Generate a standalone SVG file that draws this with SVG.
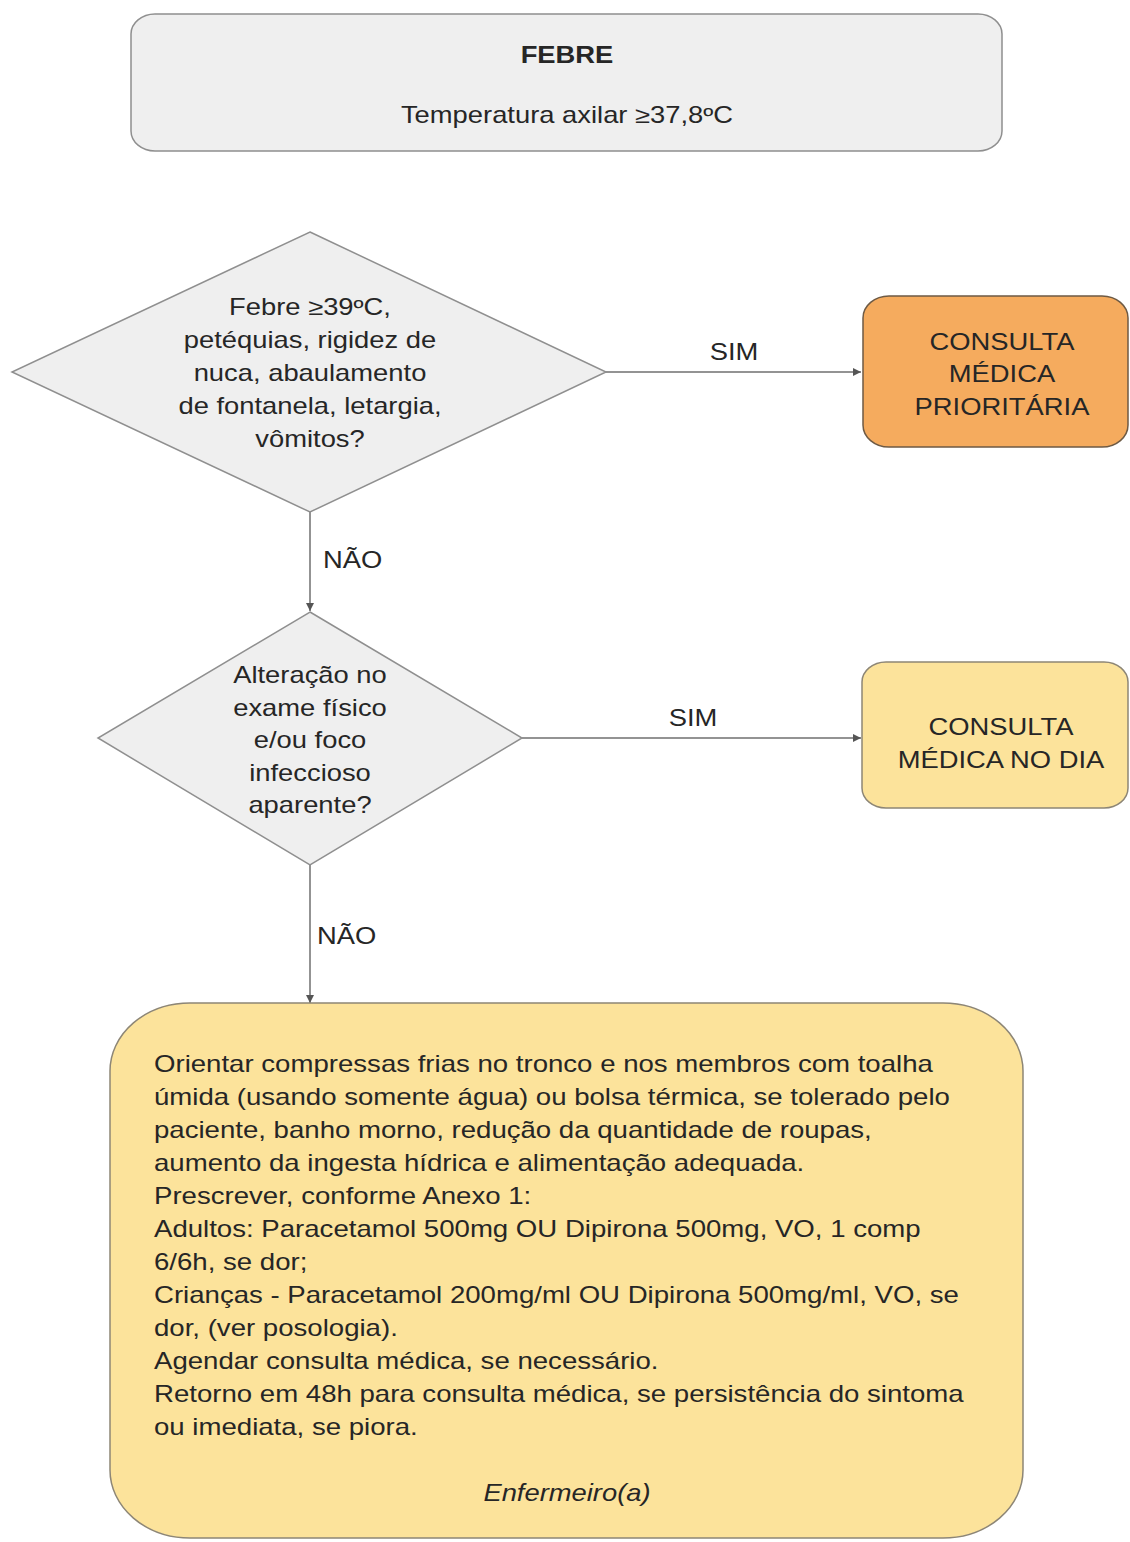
<svg xmlns="http://www.w3.org/2000/svg" width="1130" height="1542" viewBox="0 0 1130 1542">
  <defs>
    <style>
      .txt { font-family: "Liberation Sans", Arial, sans-serif; font-size: 23px; fill: #262626; }
      .mid { text-anchor: middle; }
      .bold { font-weight: bold; }
      .ital { font-style: italic; }
      .gray { fill: #efefef; stroke: #8f8f8f; stroke-width: 1.5; }
      .orange { fill: #f5ab5e; stroke: #6e5a44; stroke-width: 1.5; }
      .yellow { fill: #fce39b; stroke: #8d8676; stroke-width: 1.5; }
      .conn { stroke: #6f6f6f; stroke-width: 1.5; fill: none; }
      .lbl { font-family: "Liberation Sans", Arial, sans-serif; font-size: 23px; fill: #262626; }
    </style>
    <marker id="arrow" markerUnits="userSpaceOnUse" markerWidth="8" markerHeight="8" refX="8" refY="4" orient="auto">
      <path d="M0,0 L8,4 L0,8 z" fill="#555555"/>
    </marker>
  </defs>

  <rect width="1130" height="1542" fill="#ffffff"/>

  <!-- Connectors -->
  <g id="connectors">
    <line class="conn" x1="606" y1="372" x2="861" y2="372" marker-end="url(#arrow)"/>
    <line class="conn" x1="310" y1="512" x2="310" y2="611" marker-end="url(#arrow)"/>
    <line class="conn" x1="522" y1="738" x2="861" y2="738" marker-end="url(#arrow)"/>
    <line class="conn" x1="310" y1="865" x2="310" y2="1003" marker-end="url(#arrow)"/>
    <g transform="translate(734,0) scale(1.19,1)">
      <text class="lbl mid" x="0" y="360">SIM</text>
    </g>
    <g transform="translate(693,0) scale(1.19,1)">
      <text class="lbl mid" x="0" y="726">SIM</text>
    </g>
    <g transform="translate(323,0) scale(1.19,1)">
      <text class="lbl" x="0" y="568">NÃO</text>
    </g>
    <g transform="translate(317,0) scale(1.19,1)">
      <text class="lbl" x="0" y="944">NÃO</text>
    </g>
  </g>

  <!-- Start: fever definition -->
  <g id="febre">
    <rect class="gray" x="131" y="14" width="871" height="137" rx="24" ry="20"/>
    <g transform="translate(567,0) scale(1.19,1)">
      <text class="txt mid bold" x="0" y="63">FEBRE</text>
      <text class="txt mid" x="0" y="123">Temperatura axilar ≥37,8ºC</text>
    </g>
  </g>

  <!-- Decision: warning signs -->
  <g id="sinais-alarme">
    <polygon class="gray" points="310,232 606,372 310,512 12,372"/>
    <g transform="translate(310,0) scale(1.19,1)">
      <text class="txt mid" x="0" y="315">Febre ≥39ºC,</text>
      <text class="txt mid" x="0" y="348">petéquias, rigidez de</text>
      <text class="txt mid" x="0" y="381">nuca, abaulamento</text>
      <text class="txt mid" x="0" y="414">de fontanela, letargia,</text>
      <text class="txt mid" x="0" y="447">vômitos?</text>
    </g>
  </g>

  <!-- Outcome: priority consultation -->
  <g id="consulta-prioritaria">
    <rect class="orange" x="863" y="296" width="265" height="151" rx="26" ry="22"/>
    <g transform="translate(1002,0) scale(1.19,1)">
      <text class="txt mid" x="0" y="350" fill="#2b2118">CONSULTA</text>
      <text class="txt mid" x="0" y="382" fill="#2b2118">MÉDICA</text>
      <text class="txt mid" x="0" y="415" fill="#2b2118">PRIORITÁRIA</text>
    </g>
  </g>

  <!-- Decision: physical exam findings -->
  <g id="exame-fisico">
    <polygon class="gray" points="310,612 522,738 310,865 98,738"/>
    <g transform="translate(310,0) scale(1.19,1)">
      <text class="txt mid" x="0" y="683">Alteração no</text>
      <text class="txt mid" x="0" y="716">exame físico</text>
      <text class="txt mid" x="0" y="748">e/ou foco</text>
      <text class="txt mid" x="0" y="781">infeccioso</text>
      <text class="txt mid" x="0" y="813">aparente?</text>
    </g>
  </g>

  <!-- Outcome: same-day consultation -->
  <g id="consulta-no-dia">
    <rect class="yellow" x="862" y="662" width="266" height="146" rx="24" ry="20"/>
    <g transform="translate(1001,0) scale(1.19,1)">
      <text class="txt mid" x="0" y="735">CONSULTA</text>
      <text class="txt mid" x="0" y="768">MÉDICA NO DIA</text>
    </g>
  </g>

  <!-- Outcome: nursing care -->
  <g id="conduta-enfermagem">
    <rect class="yellow" x="110" y="1003" width="913" height="535" rx="80" ry="68"/>
    <g transform="translate(154,0) scale(1.2,1)">
      <text class="txt" x="0" y="1072">Orientar compressas frias no tronco e nos membros com toalha</text>
      <text class="txt" x="0" y="1105">úmida (usando somente água) ou bolsa térmica, se tolerado pelo</text>
      <text class="txt" x="0" y="1138">paciente, banho morno, redução da quantidade de roupas,</text>
      <text class="txt" x="0" y="1171">aumento da ingesta hídrica e alimentação adequada.</text>
      <text class="txt" x="0" y="1204">Prescrever, conforme Anexo 1:</text>
      <text class="txt" x="0" y="1237">Adultos: Paracetamol 500mg OU Dipirona 500mg, VO, 1 comp</text>
      <text class="txt" x="0" y="1270">6/6h, se dor;</text>
      <text class="txt" x="0" y="1303">Crianças - Paracetamol 200mg/ml OU Dipirona 500mg/ml, VO, se</text>
      <text class="txt" x="0" y="1336">dor, (ver posologia).</text>
      <text class="txt" x="0" y="1369">Agendar consulta médica, se necessário.</text>
      <text class="txt" x="0" y="1402">Retorno em 48h para consulta médica, se persistência do sintoma</text>
      <text class="txt" x="0" y="1435">ou imediata, se piora.</text>
    </g>
    <g transform="translate(567,0) scale(1.19,1)">
      <text class="txt mid ital" x="0" y="1501">Enfermeiro(a)</text>
    </g>
  </g>
</svg>
